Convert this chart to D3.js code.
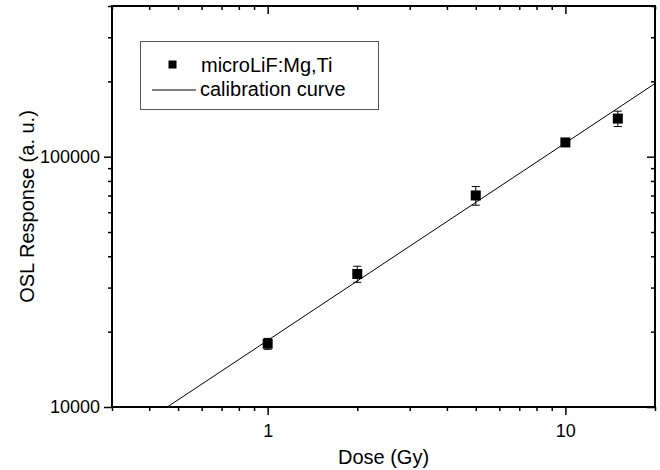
<!DOCTYPE html>
<html><head><meta charset="utf-8">
<script src="https://cdn.jsdelivr.net/npm/d3@7"></script>
<style>body{margin:0;background:#fff}svg{display:block}text{font-family:"Liberation Sans",Arial,sans-serif;fill:#000}</style>
</head><body><svg id="c" width="660" height="470"></svg>
<script>
const doses = [1, 2, 5, 10, 15];
const response = [17900, 34000, 70000, 114000, 142000];
const errors = [900, 2500, 6000, 1500, 10000];
const fitX = [0.46, 20];
const fitY = [10000, 196000];
const xMajor = [1, 10];
const xMinor = [0.3,0.4,0.5,0.6,0.7,0.8,0.9,2,3,4,5,6,7,8,9,20];
const yMajor = [10000, 100000];
const yMinor = [20000,30000,40000,50000,60000,70000,80000,90000,200000,300000,400000];
const seriesName = "microLiF:Mg,Ti";
const fitName = "calibration curve";

const svg = d3.select("#c");
const L=112, R=655, T=6, B=407;
const x = d3.scaleLog().domain([0.3,20]).range([L,R]);
const y = d3.scaleLog().domain([10000,400000]).range([B,T]);
const fmt = d => String(d);

const bottom = svg.append("g").attr("transform",`translate(0,${B})`)
  .call(d3.axisBottom(x).tickValues(xMajor).tickFormat(fmt).tickSize(8).tickSizeOuter(0));
svg.append("g").attr("transform",`translate(0,${B})`)
  .call(d3.axisBottom(x).tickValues(xMinor).tickFormat("").tickSize(4).tickSizeOuter(0));
svg.append("g").attr("transform",`translate(0,${T})`)
  .call(d3.axisBottom(x).tickValues(xMajor).tickFormat("").tickSize(8).tickSizeOuter(0));
svg.append("g").attr("transform",`translate(0,${T})`)
  .call(d3.axisBottom(x).tickValues(xMinor).tickFormat("").tickSize(4).tickSizeOuter(0));
const left = svg.append("g").attr("transform",`translate(${L},0)`)
  .call(d3.axisLeft(y).tickValues(yMajor).tickFormat(fmt).tickSize(8).tickSizeOuter(0));
svg.append("g").attr("transform",`translate(${L},0)`)
  .call(d3.axisLeft(y).tickValues(yMinor).tickFormat("").tickSize(4).tickSizeOuter(0));
svg.append("g").attr("transform",`translate(${R},0)`)
  .call(d3.axisLeft(y).tickValues(yMajor).tickFormat("").tickSize(8).tickSizeOuter(0));
svg.append("g").attr("transform",`translate(${R},0)`)
  .call(d3.axisLeft(y).tickValues(yMinor).tickFormat("").tickSize(4).tickSizeOuter(0));
svg.selectAll(".domain").remove();
svg.selectAll(".tick line").attr("stroke","#000").attr("stroke-width",1.5);
svg.selectAll(".tick text").style("font-size","18px").attr("fill","#000");
bottom.selectAll(".tick text").attr("dy","1.05em");
left.selectAll(".tick text").attr("x",-12);
svg.append("rect").attr("x",L).attr("y",T).attr("width",R-L).attr("height",B-T)
  .attr("fill","none").attr("stroke","#000").attr("stroke-width",2);

svg.append("clipPath").attr("id","pc").append("rect")
  .attr("x",L).attr("y",T).attr("width",R-L).attr("height",B-T);
svg.append("path").attr("clip-path","url(#pc)")
  .attr("d", d3.line().x((d,i)=>x(fitX[i])).y(d=>y(d))(fitY))
  .attr("fill","none").attr("stroke","#000").attr("stroke-width",1);

const g = svg.append("g");
doses.forEach((d,i)=>{
  const cx=x(d), y1=y(response[i]+errors[i]), y2=y(response[i]-errors[i]);
  g.append("line").attr("x1",cx).attr("x2",cx).attr("y1",y1).attr("y2",y2).attr("stroke","#000");
  [y1,y2].forEach(yy=>g.append("line").attr("x1",cx-4).attr("x2",cx+4).attr("y1",yy).attr("y2",yy).attr("stroke","#000"));
  g.append("rect").attr("x",cx-5).attr("y",y(response[i])-5).attr("width",10).attr("height",10).attr("fill","#000");
});

svg.append("text").attr("x",(L+R)/2).attr("y",464).attr("text-anchor","middle").style("font-size","20px").text("Dose (Gy)");
svg.append("text").attr("transform",`translate(34,${(T+B)/2}) rotate(-90)`).attr("text-anchor","middle").style("font-size","20px").text("OSL Response (a. u.)");

const lg = svg.append("g");
lg.append("rect").attr("x",140.5).attr("y",41.5).attr("width",238).attr("height",68).attr("fill","#fff").attr("stroke","#555").attr("stroke-width",1);
lg.append("rect").attr("x",168.5).attr("y",60.5).attr("width",8).attr("height",8).attr("fill","#000");
lg.append("text").attr("x",201).attr("y",72).style("font-size","20px").text(seriesName);
lg.append("line").attr("x1",152).attr("x2",196).attr("y1",90).attr("y2",90).attr("stroke","#000");
lg.append("text").attr("x",200).attr("y",96).style("font-size","20px").text(fitName);
</script></body></html>
